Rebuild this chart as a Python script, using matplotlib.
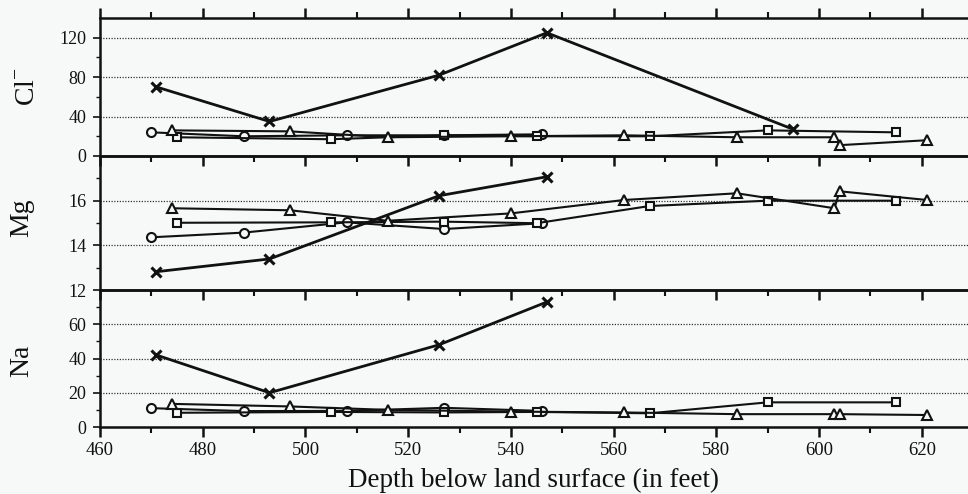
import numpy as np
import matplotlib
matplotlib.use("Agg")
import matplotlib.pyplot as plt
from matplotlib.ticker import MultipleLocator, FixedLocator

plt.rcParams['font.family'] = ['Liberation Serif', 'DejaVu Serif']
plt.rcParams['mathtext.fontset'] = 'custom'
plt.rcParams['mathtext.rm'] = 'Liberation Serif'

nan = np.nan

# ---- data ----
depth_x = [471, 493, 526, 547, 595]
cl_x = [70, 35, 82, 125, 27]
mg_x = [12.82, 13.39, 16.22, 17.07, nan]
na_x = [42, 20, 48, 73, nan]

depth_circle = [470, 488, 508, 527, 546]
cl_circle = [24, 20, 21, 21, 22]
mg_circle = [14.36, 14.57, 15.03, 14.73, 14.99]
na_circle = [11, 9.3, 9.4, 11.2, 9.4]

depth_tri = [474, 497, 516, 540, 562, 584, 603, 604, 621]
cl_tri = [26, 25, 19, 20, 21, 19, 19, 11, 16]
mg_tri = [15.66, 15.57, 15.10, 15.43, 16.03, 16.33, 15.66, 16.42, 16.03]
na_tri = [13.5, 12, 10, 9, 8.5, 7.5, 7.5, 7.5, 7]

depth_sq = [475, 505, 527, 545, 567, 590, 615]
cl_sq = [19, 17, 21, 20, 20, 26, 24]
mg_sq = [15.01, 15.03, 15.06, 14.99, 15.76, 16.0, 16.0]
na_sq = [8.3, 8.8, 8.5, 8.8, 8.0, 14.4, 14.4]

panel_labels = [r'Cl$^{-}$', 'Mg', 'Na']
x_label = 'Depth below land surface (in feet)'

BG = '#f7f8f8'
INK = '#111111'

W, H = 968, 494
fig = plt.figure(figsize=(W / 100, H / 100), dpi=100, facecolor=BG)

def frac_rect(top_px, bot_px):
    left = 100 / W
    return [left, (H - bot_px) / H, 1 - left, (bot_px - top_px) / H]

ax_cl = fig.add_axes(frac_rect(18, 156))
ax_mg = fig.add_axes(frac_rect(156, 290))
ax_na = fig.add_axes(frac_rect(290, 427))
axes = [ax_cl, ax_mg, ax_na]

series_y = [
    (cl_x, cl_circle, cl_tri, cl_sq),
    (mg_x, mg_circle, mg_tri, mg_sq),
    (na_x, na_circle, na_tri, na_sq),
]
ylims = [(0, 140), (12, 18), (0, 80)]
ymajor = [[0, 40, 80, 120], [12, 14, 16], [0, 20, 40, 60]]
yminor = [[20, 60, 100], [13, 15, 17], [10, 30, 50, 70]]

for i, ax in enumerate(axes):
    ax.set_facecolor('none')
    ys_x, ys_c, ys_t, ys_s = series_y[i]
    ax.plot(depth_circle, ys_c, color=INK, lw=1.5, marker='o', ms=6.5,
            mfc=BG, mec=INK, mew=1.5, zorder=3)
    ax.plot(depth_sq, ys_s, color=INK, lw=1.5, marker='s', ms=6,
            mfc=BG, mec=INK, mew=1.5, zorder=3)
    ax.plot(depth_tri, ys_t, color=INK, lw=1.5, marker='^', ms=6.5,
            mfc=BG, mec=INK, mew=1.5, zorder=3)
    ax.plot(depth_x, ys_x, color=INK, lw=2.0, marker='x', ms=7.5,
            mec=INK, mew=2.2, zorder=4)

    ax.set_xlim(460, 629)
    ax.set_ylim(*ylims[i])
    ax.yaxis.set_major_locator(FixedLocator(ymajor[i]))
    ax.yaxis.set_minor_locator(FixedLocator(yminor[i]))
    ax.xaxis.set_major_locator(MultipleLocator(20))
    ax.xaxis.set_minor_locator(MultipleLocator(10))
    ax.yaxis.grid(True, which='major', linestyle=(0, (1, 1.2)),
                  linewidth=0.9, color='#333333', zorder=1)
    ax.set_axisbelow(True)

    for s in ['left', 'top', 'bottom']:
        ax.spines[s].set_linewidth(1.8)
        ax.spines[s].set_color(INK)
    ax.spines['right'].set_visible(False)

    ax.tick_params(axis='y', which='major', direction='out', length=5,
                   width=1.2, color=INK, labelsize=13, pad=5, labelcolor=INK)
    ax.tick_params(axis='y', which='minor', direction='out', length=3,
                   width=1.0, color=INK)
    ax.tick_params(axis='x', which='major', direction='out', length=7,
                   width=1.8, color=INK, labelsize=13.5, pad=4,
                   top=(i == 0), bottom=True, labelbottom=(i == 2),
                   labeltop=False, labelcolor=INK)
    ax.tick_params(axis='x', which='minor', direction='out', length=4,
                   width=1.5, color=INK, top=(i == 0), bottom=True)

# panel labels (rotated)
label_pos = [(28, 87), (22, 218), (22, 361)]
for lab, (px, py) in zip(panel_labels, label_pos):
    fig.text(px / W, 1 - py / H, lab, rotation=90, ha='center', va='center',
             fontsize=20, color=INK)

fig.text((100 + 868 / 2) / W, 1 - 480 / H, x_label, ha='center',
         va='center', fontsize=19.5, color=INK)

fig.savefig('out.png', dpi=100, facecolor=BG)
